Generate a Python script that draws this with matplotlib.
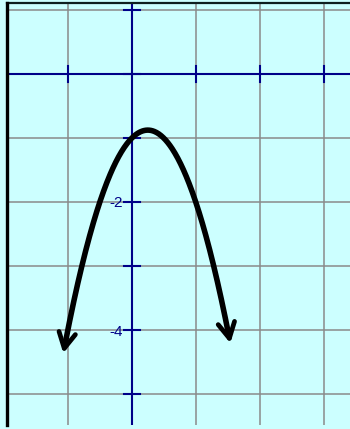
import numpy as np
import matplotlib
matplotlib.use("Agg")
import matplotlib.pyplot as plt

plt.rcParams.update({
    "font.family": ["Liberation Sans", "DejaVu Sans"],
    "axes.unicode_minus": False,
})

BG = "#ccffff"
GRID = "#8a8a8a"
AXIS = "#000088"

# y = a x^2 + b x + c, drawn between the two arrow tips
COEF_A, COEF_B, COEF_C = -2.0, 1.0, -1.0
X_LEFT, X_RIGHT = -1.07, 1.54

X_TICKS = [-1, 1, 2, 3]
Y_TICKS = [1, -1, -2, -3, -4, -5]
Y_LABELED = [-2, -4]
GRID_X = [-1, 0, 1, 2, 3]
GRID_Y = [1, 0, -1, -2, -3, -4, -5]

fig = plt.figure(figsize=(3.5, 4.29), dpi=100, facecolor=BG)
ax = fig.add_axes([7 / 350, 4 / 429, 343 / 350, 422 / 429])
ax.set_facecolor(BG)
ax.set_xlim(-1.95, 3.41)
ax.set_ylim(-5.48, 1.11)

for gx in GRID_X:
    ax.axvline(gx, color=GRID, lw=1.1, zorder=1)
for gy in GRID_Y:
    ax.axhline(gy, color=GRID, lw=1.1, zorder=1)

# coordinate axes through the origin
for sp in ["right", "bottom", "left"]:
    ax.spines[sp].set_visible(False)
ax.spines["top"].set_color("#0d1f1f")
ax.spines["top"].set_linewidth(1.6)
ax.plot([0, 0], [0, 1], transform=ax.transAxes, color="black", lw=2.4,
        clip_on=False, zorder=6)
ax.axhline(0, color=AXIS, lw=1.5, zorder=2)
ax.axvline(0, color=AXIS, lw=1.5, zorder=2)

ax.set_xticks([])
ax.set_yticks([])
tick = 0.125
for tx in X_TICKS:
    ax.plot([tx, tx], [-tick, tick], color=AXIS, lw=1.5, zorder=2)
for ty in Y_TICKS + [0]:
    ax.plot([-tick, tick], [ty, ty], color=AXIS, lw=1.5, zorder=2)
for ty in Y_LABELED:
    ax.text(-tick - 0.01, ty - 0.02, f"-{abs(ty)}", color=AXIS, fontsize=11,
            ha="right", va="center", zorder=3)

# parabola with arrowheads at both ends
xs = np.linspace(X_LEFT, X_RIGHT, 300)
ys = COEF_A * xs ** 2 + COEF_B * xs + COEF_C
ax.plot(xs[3:-3], ys[3:-3], color="black", lw=4.0, solid_capstyle="round",
        zorder=4)
arrow = dict(arrowstyle="->,head_length=0.75,head_width=0.4", color="black",
             lw=3.4, mutation_scale=15, shrinkA=0, shrinkB=0)
ax.annotate("", xy=(xs[0], ys[0]), xytext=(xs[4], ys[4]),
            arrowprops=arrow, zorder=5)
ax.annotate("", xy=(xs[-1], ys[-1]), xytext=(xs[-5], ys[-5]),
            arrowprops=arrow, zorder=5)

fig.savefig("out.png", dpi=100, facecolor=BG)
